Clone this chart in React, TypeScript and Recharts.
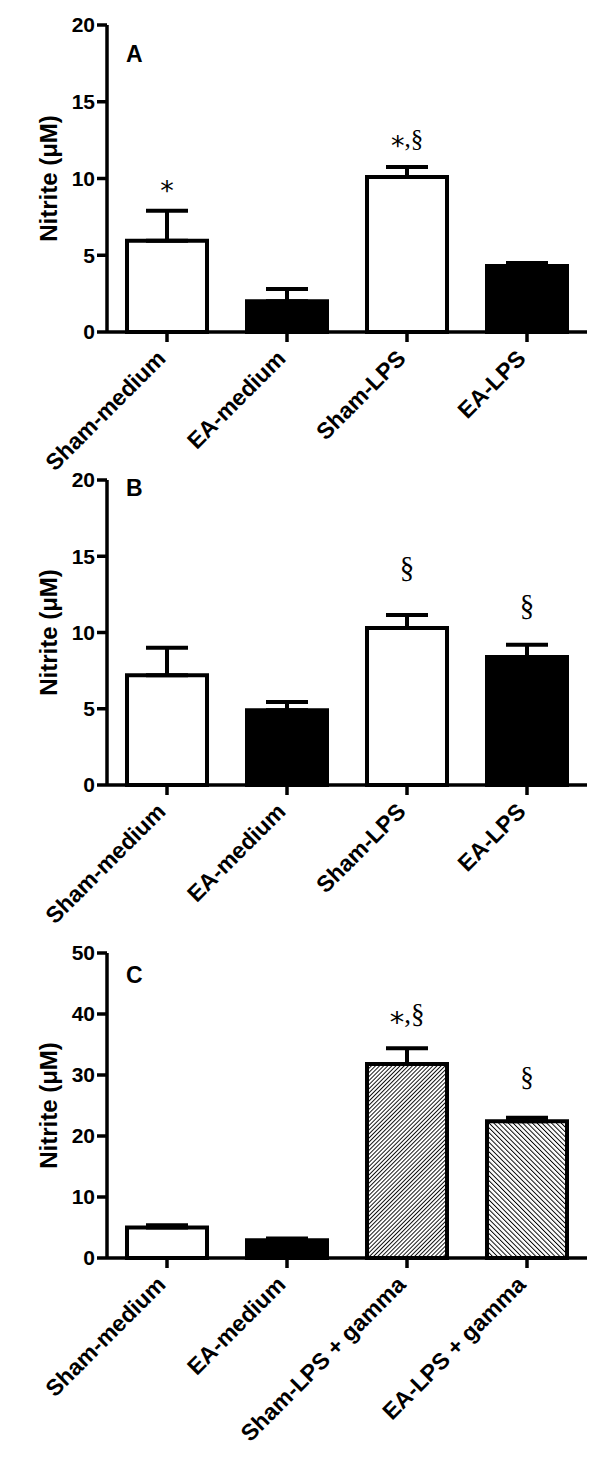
import React from 'react'
import { Bar, Cell, ComposedChart, ErrorBar, Scatter, XAxis, YAxis } from 'recharts'

// groups on the x axis
const groupsAB = ['Sham-medium', 'EA-medium', 'Sham-LPS', 'EA-LPS']
const groupsC = ['Sham-medium', 'EA-medium', 'Sham-LPS + gamma', 'EA-LPS + gamma']

// nitrite (µM), mean and SEM (upper whisker only)
const meanA = [5.95, 2.0, 10.1, 4.3]
const semA = [1.95, 0.8, 0.65, 0.2]
const meanB = [7.2, 4.9, 10.3, 8.4]
const semB = [1.8, 0.55, 0.85, 0.8]
const meanC = [5.0, 2.9, 31.8, 22.4]
const semC = [0.35, 0.3, 2.6, 0.6]

// significance marks and the value they sit at
const notesA = ['*', '', '*,§', '']
const noteAtA = [9.5, null, 12.45, null]
const notesB = ['', '', '§', '§']
const noteAtB = [null, null, 14.1, 11.6]
const notesC = ['', '', '*,§', '§']
const noteAtC = [null, null, 39.5, 29.2]

const ticks20 = [0, 5, 10, 15, 20]
const ticks50 = [0, 10, 20, 30, 40, 50]

const SANS = '"Liberation Sans", Arial, sans-serif'
const SERIF = '"Liberation Serif", "Times New Roman", serif'
const STAR = '"DejaVu Sans", sans-serif'
const axisStyle = { stroke: '#000', strokeWidth: 3.5 }

function XTick(props: any) {
  const { x, y, payload } = props
  const ty = y + 16
  return (
    <text
      x={x}
      y={ty}
      textAnchor="end"
      transform={`rotate(-45, ${x}, ${ty})`}
      fontFamily={SANS}
      fontWeight="bold"
      fontSize={23}
      fill="#000"
    >
      {payload.value}
    </text>
  )
}

// asterisk in a sans face pulled down to line up with the serif §
function Note({ cx, cy, text, size }: { cx: number; cy: number; text: string; size: number }) {
  const starSize = size + 2
  const parts = text.split('')
  return (
    <text x={cx} y={cy + 0.23 * size} textAnchor="middle" fontFamily={SERIF} fontSize={size} fill="#000">
      {parts.map((ch, i) =>
        ch === '*' ? (
          <tspan key={i} fontFamily={STAR} fontSize={starSize} dy={0.3 * starSize}>
            *
          </tspan>
        ) : (
          <tspan key={i} dy={i > 0 && parts[i - 1] === '*' ? -0.3 * starSize : 0}>
            {ch}
          </tspan>
        ),
      )}
    </text>
  )
}

interface PanelProps {
  top: number
  height: number
  xHeight: number
  letter: string
  letterDy: number
  names: string[]
  mean: number[]
  sem: number[]
  notes: string[]
  noteAt: (number | null)[]
  noteSize: number
  max: number
  ticks: number[]
  fills: string[]
}

function Panel(p: PanelProps) {
  const data = p.names.map((name, i) => ({
    name,
    mean: p.mean[i],
    err: [0, p.sem[i]],
    note: p.notes[i],
    noteY: p.noteAt[i],
  }))

  const yLabel = (lp: any) => {
    const vb = lp.viewBox || { x: 0, y: 25, width: 107, height: 307 }
    const cx = vb.x + 57
    const cy = vb.y + vb.height / 2
    return (
      <g>
        <text
          x={cx}
          y={cy}
          textAnchor="middle"
          transform={`rotate(-90, ${cx}, ${cy})`}
          fontFamily={SANS}
          fontWeight="bold"
          fontSize={24}
          fill="#000"
        >
          Nitrite (μM)
        </text>
        <text
          x={vb.x + vb.width + 19}
          y={vb.y + p.letterDy}
          fontFamily={SANS}
          fontWeight="bold"
          fontSize={23}
          fill="#000"
        >
          {p.letter}
        </text>
      </g>
    )
  }

  return (
    <div style={{ position: 'absolute', left: 0, top: p.top }}>
      <ComposedChart
        width={600}
        height={p.height}
        data={data}
        margin={{ top: 25, right: 13, bottom: 0, left: 0 }}
      >
        <defs>
          <pattern id="hatchUp" patternUnits="userSpaceOnUse" width="2.9" height="2.9" patternTransform="rotate(45)">
            <rect width="2.9" height="2.9" fill="#fff" />
            <line x1="0" y1="0" x2="0" y2="2.9" stroke="#000" strokeWidth="1.8" />
          </pattern>
          <pattern id="hatchDown" patternUnits="userSpaceOnUse" width="3.4" height="3.4" patternTransform="rotate(-45)">
            <rect width="3.4" height="3.4" fill="#fff" />
            <line x1="0" y1="0" x2="0" y2="3.4" stroke="#000" strokeWidth="1.9" />
          </pattern>
        </defs>
        <XAxis
          dataKey="name"
          interval={0}
          height={p.xHeight}
          tickSize={10}
          axisLine={axisStyle}
          tickLine={axisStyle}
          tick={(tp: any) => <XTick {...tp} />}
        />
        <YAxis
          width={107}
          type="number"
          domain={[0, p.max]}
          ticks={p.ticks}
          tickSize={10}
          tickMargin={2}
          axisLine={axisStyle}
          tickLine={axisStyle}
          tick={{ fontFamily: SANS, fontWeight: 'bold', fontSize: 21, fill: '#000' }}
          label={yLabel}
        />
        <Bar dataKey="mean" barSize={80} stroke="#000" strokeWidth={4} isAnimationActive={false}>
          {data.map((d, i) => (
            <Cell key={d.name} fill={p.fills[i]} />
          ))}
          <ErrorBar dataKey="err" width={21} stroke="#000" strokeWidth={4} />
        </Bar>
        <Scatter
          dataKey="noteY"
          isAnimationActive={false}
          shape={(sp: any) =>
            sp.payload && sp.payload.note && Number.isFinite(sp.cy) ? (
              <Note cx={sp.cx} cy={sp.cy} text={sp.payload.note} size={p.noteSize} />
            ) : (
              <g />
            )
          }
        />
      </ComposedChart>
    </div>
  )
}

export default function App() {
  return (
    <div style={{ position: 'absolute', left: 0, top: 0, width: 600, height: 1465, background: '#fff' }}>
      <Panel
        top={0}
        height={482}
        xHeight={150}
        letter="A"
        letterDy={37}
        names={groupsAB}
        mean={meanA}
        sem={semA}
        notes={notesA}
        noteAt={noteAtA}
        noteSize={25}
        max={20}
        ticks={ticks20}
        fills={['#fff', '#000', '#fff', '#000']}
      />
      <Panel
        top={455}
        height={480}
        xHeight={150}
        letter="B"
        letterDy={16}
        names={groupsAB}
        mean={meanB}
        sem={semB}
        notes={notesB}
        noteAt={noteAtB}
        noteSize={29}
        max={20}
        ticks={ticks20}
        fills={['#fff', '#000', '#fff', '#000']}
      />
      <Panel
        top={928}
        height={535}
        xHeight={205}
        letter="C"
        letterDy={30}
        names={groupsC}
        mean={meanC}
        sem={semC}
        notes={notesC}
        noteAt={noteAtC}
        noteSize={27}
        max={50}
        ticks={ticks50}
        fills={['#fff', '#000', 'url(#hatchUp)', 'url(#hatchDown)']}
      />
    </div>
  )
}
